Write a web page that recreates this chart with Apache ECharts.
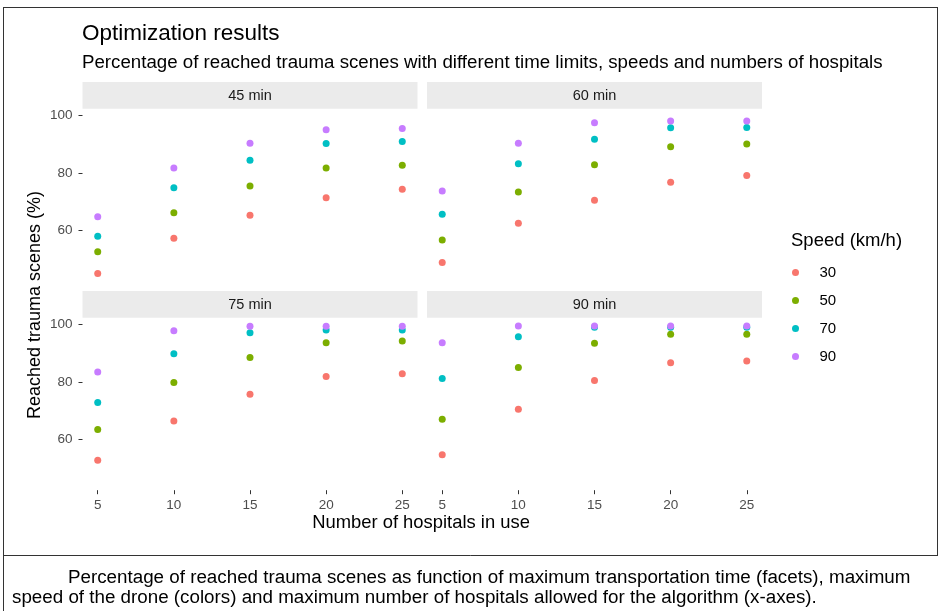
<!DOCTYPE html>
<html>
<head>
<meta charset="utf-8">
<script src="https://cdn.jsdelivr.net/npm/echarts@6/dist/echarts.min.js"></script>
<style>
html,body{margin:0;padding:0;background:#fff;}
#chart{width:938px;height:611px;}
</style>
</head>
<body>
<div id="chart"></div>
<script>
// ---- data ----
const hospitals = [5, 10, 15, 20, 25];
const facets = ['45 min', '60 min', '75 min', '90 min'];
const speeds = ['30', '50', '70', '90'];
const xTicks = [5, 10, 15, 20, 25];
const yTicks = [60, 80, 100];

// percentage of reached trauma scenes, one array per time limit & speed
const t45_s30 = [45.2, 57.4, 65.4, 71.4, 74.4];
const t45_s50 = [52.7, 66.2, 75.5, 81.7, 82.7];
const t45_s70 = [58.1, 74.9, 84.4, 90.2, 90.9];
const t45_s90 = [64.8, 81.7, 90.3, 95.0, 95.4];

const t60_s30 = [49.0, 62.6, 70.6, 76.8, 79.1];
const t60_s50 = [56.8, 73.4, 82.9, 89.1, 90.1];
const t60_s70 = [65.7, 83.2, 91.7, 95.7, 95.8];
const t60_s90 = [73.8, 90.3, 97.4, 98.0, 98.0];

const t75_s30 = [52.9, 66.5, 75.8, 81.9, 82.9];
const t75_s50 = [63.5, 79.8, 88.5, 93.6, 94.2];
const t75_s70 = [72.9, 89.8, 97.1, 98.0, 98.0];
const t75_s90 = [83.5, 97.8, 99.3, 99.3, 99.3];

const t90_s30 = [54.8, 70.6, 80.5, 86.7, 87.3];
const t90_s50 = [67.1, 85.0, 93.4, 96.6, 96.6];
const t90_s70 = [81.2, 95.7, 99.0, 99.0, 99.0];
const t90_s90 = [93.6, 99.4, 99.4, 99.4, 99.4];

const facetData = [
  [t45_s30, t45_s50, t45_s70, t45_s90],
  [t60_s30, t60_s50, t60_s70, t60_s90],
  [t75_s30, t75_s50, t75_s70, t75_s90],
  [t90_s30, t90_s50, t90_s70, t90_s90]
];
const colors = ['#F8766D', '#7CAE00', '#00BFC4', '#C77CFF'];

// ---- layout ----
const FONT = '"Liberation Sans", Arial, Helvetica, sans-serif';
const panelW = 335, panelH = 172.5;
const panelLeft = [82.5, 427, 82.5, 427];
const panelTop = [108.7, 108.7, 317.7, 317.7];
const stripTop = [82, 82, 291, 291];
const stripH = 26.8;

const grids = [], xAxes = [], yAxes = [], series = [];
for (let i = 0; i < 4; i++) {
  grids.push({left: panelLeft[i], top: panelTop[i], width: panelW, height: panelH, containLabel: false});
  const bottomRow = i >= 2, leftCol = (i % 2) === 0;
  xAxes.push({
    type: 'value', gridIndex: i, min: 4, max: 26,
    axisLine: {show: false}, splitLine: {show: false},
    axisTick: {show: bottomRow, length: 4, customValues: xTicks, lineStyle: {color: '#333333', width: 1}},
    axisLabel: {show: bottomRow, customValues: xTicks, color: '#4D4D4D', fontSize: 13.5, fontFamily: FONT, margin: 8}
  });
  yAxes.push({
    type: 'value', gridIndex: i, min: 42.5, max: 102.3,
    axisLine: {show: false}, splitLine: {show: false},
    axisTick: {show: leftCol, length: 4, customValues: yTicks, lineStyle: {color: '#333333', width: 1}},
    axisLabel: {show: leftCol, customValues: yTicks, color: '#4D4D4D', fontSize: 13.5, fontFamily: FONT, margin: 10}
  });
  for (let s = 0; s < 4; s++) {
    series.push({
      type: 'scatter', name: speeds[s], xAxisIndex: i, yAxisIndex: i,
      symbol: 'circle', symbolSize: 7,
      itemStyle: {color: colors[s], opacity: 1},
      emphasis: {disabled: true},
      data: hospitals.map((h, k) => [h, facetData[i][s][k]])
    });
  }
}

const graphics = [];
// frame lines
graphics.push({type: 'line', shape: {x1: 4, y1: 7.5, x2: 938, y2: 7.5}, style: {stroke: '#333', lineWidth: 1}, silent: true});
graphics.push({type: 'line', shape: {x1: 3.5, y1: 7, x2: 3.5, y2: 611}, style: {stroke: '#333', lineWidth: 1}, silent: true});
graphics.push({type: 'line', shape: {x1: 937.5, y1: 7, x2: 937.5, y2: 555}, style: {stroke: '#333', lineWidth: 1}, silent: true});
graphics.push({type: 'line', shape: {x1: 3.5, y1: 555.5, x2: 938, y2: 555.5}, style: {stroke: '#333', lineWidth: 1}, silent: true});
// strips
for (let i = 0; i < 4; i++) {
  graphics.push({type: 'rect', shape: {x: panelLeft[i], y: stripTop[i], width: panelW, height: stripH}, style: {fill: '#EBEBEB'}, silent: true, z: -1});
  graphics.push({type: 'text', x: panelLeft[i] + panelW / 2, y: stripTop[i] + stripH / 2 + 0.5,
    style: {text: facets[i], fill: '#1A1A1A', font: '14.5px ' + FONT, align: 'center', verticalAlign: 'middle'}, silent: true});
}
// titles
graphics.push({type: 'text', x: 82, y: 34, style: {text: 'Optimization results', fill: '#000', font: '22.5px ' + FONT, align: 'left', verticalAlign: 'middle'}, silent: true});
graphics.push({type: 'text', x: 82, y: 62.5, style: {text: 'Percentage of reached trauma scenes with different time limits, speeds and numbers of hospitals', fill: '#000', font: '18.7px ' + FONT, align: 'left', verticalAlign: 'middle'}, silent: true});
// axis titles
graphics.push({type: 'text', x: 421, y: 523, style: {text: 'Number of hospitals in use', fill: '#000', font: '18.4px ' + FONT, align: 'center', verticalAlign: 'middle'}, silent: true});
graphics.push({type: 'text', x: 35, y: 305, rotation: Math.PI / 2, style: {text: 'Reached trauma scenes (%)', fill: '#000', font: '18px ' + FONT, align: 'center', verticalAlign: 'middle'}, silent: true});
// legend title
graphics.push({type: 'text', x: 791, y: 241, style: {text: 'Speed (km/h)', fill: '#000', font: '18.5px ' + FONT, align: 'left', verticalAlign: 'middle'}, silent: true});
// caption
graphics.push({type: 'text', x: 68, y: 578, style: {text: 'Percentage of reached trauma scenes as function of maximum transportation time (facets), maximum', fill: '#000', font: '18.8px ' + FONT, align: 'left', verticalAlign: 'middle'}, silent: true});
graphics.push({type: 'text', x: 12, y: 598, style: {text: 'speed of the drone (colors) and maximum number of hospitals allowed for the algorithm (x-axes).', fill: '#000', font: '18.8px ' + FONT, align: 'left', verticalAlign: 'middle'}, silent: true});

const chart = echarts.init(document.getElementById('chart'), null, {renderer: 'canvas'});
chart.setOption({
  animation: false,
  backgroundColor: '#ffffff',
  grid: grids,
  xAxis: xAxes,
  yAxis: yAxes,
  legend: {
    data: speeds.map(s => ({name: s, icon: 'circle'})),
    orient: 'vertical', left: 787, top: 260,
    itemWidth: 38, itemHeight: 7, itemGap: 13,
    selectedMode: false,
    textStyle: {color: '#000', fontSize: 15, fontFamily: FONT}
  },
  graphic: graphics,
  series: series
});
</script>
</body>
</html>
